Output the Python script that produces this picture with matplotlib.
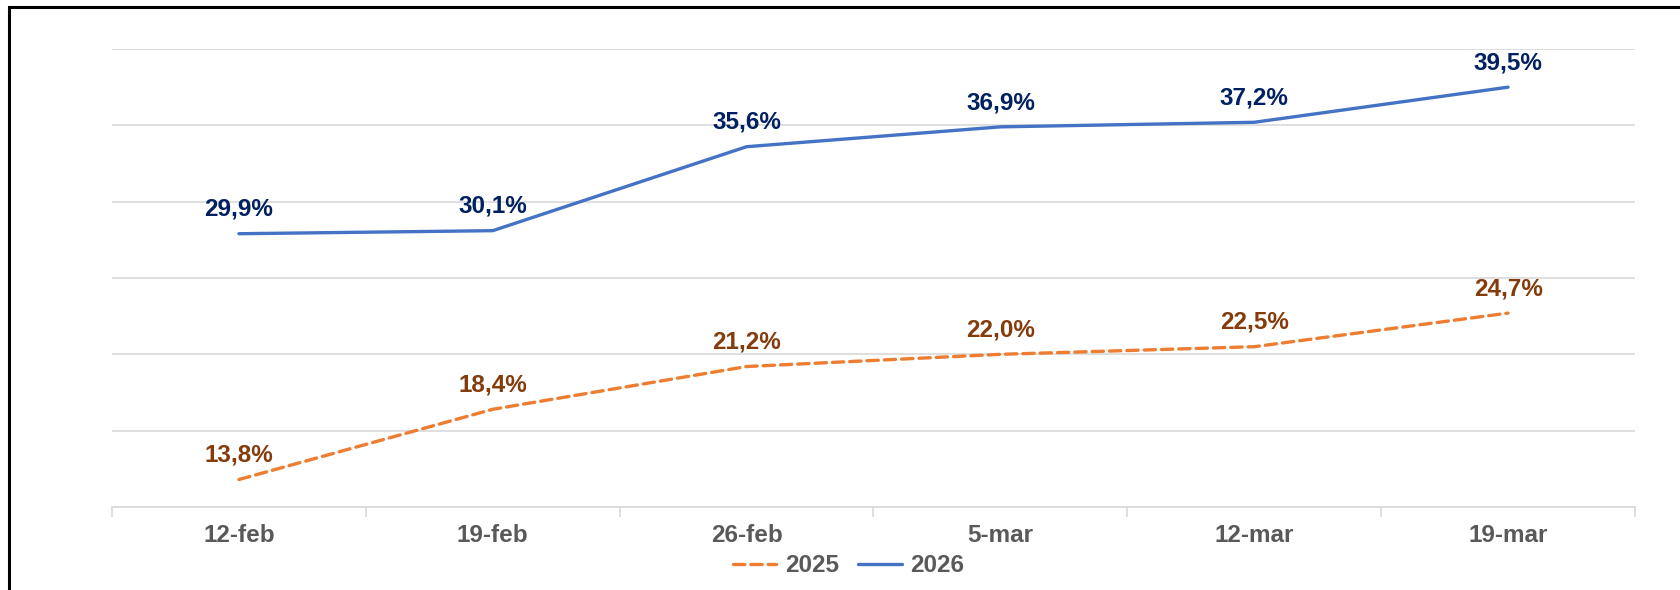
import matplotlib.pyplot as plt
from matplotlib.patches import Rectangle

plt.rcParams['font.family'] = ['Liberation Sans', 'DejaVu Sans']

# dati
settimane = ["12-feb", "19-feb", "26-feb", "5-mar", "12-mar", "19-mar"]
valori_2025 = [13.8, 18.4, 21.2, 22.0, 22.5, 24.7]
valori_2026 = [29.9, 30.1, 35.6, 36.9, 37.2, 39.5]

FS = 17.5

fig = plt.figure(figsize=(16.8, 5.9), dpi=100)
ax = fig.add_axes([112 / 1680, 1 - 507 / 590, 1523 / 1680, 458 / 590])

x = list(range(len(settimane)))

l25, = ax.plot(x, valori_2025, color="#ED7D31", lw=2.4, dashes=(3.4, 1.8),
               dash_capstyle="round", label="2025")
l26, = ax.plot(x, valori_2026, color="#4472C4", lw=2.4,
               solid_capstyle="round", label="2026")

# etichette dei valori
for xi, v in zip(x, valori_2025):
    ax.annotate(f"{v:.1f}%".replace(".", ","), (xi, v), xytext=(0, 17.5),
                textcoords="offset points", ha="center", va="center",
                fontsize=FS, fontweight="bold", color="#843C0C")
for xi, v in zip(x, valori_2026):
    ax.annotate(f"{v:.1f}%".replace(".", ","), (xi, v), xytext=(0, 17.5),
                textcoords="offset points", ha="center", va="center",
                fontsize=FS, fontweight="bold", color="#002060")

ax.set_xlim(-0.5, len(settimane) - 0.5)
ax.set_ylim(12, 42)
ax.set_yticks([12, 17, 22, 27, 32, 37, 42])
ax.yaxis.grid(True, color="#D9D9D9", lw=1.2)
ax.set_axisbelow(True)
ax.tick_params(axis="y", left=False, labelleft=False)

ax.set_xticks(x)
ax.set_xticklabels(settimane, fontsize=FS, fontweight="bold", color="#595959")
ax.set_xticks([i - 0.5 for i in range(len(settimane) + 1)], minor=True)
ax.tick_params(axis="x", which="major", length=0, pad=12)
ax.tick_params(axis="x", which="minor", length=7, color="#D9D9D9", width=1.2)

for s in ["top", "left", "right"]:
    ax.spines[s].set_visible(False)
ax.spines["bottom"].set_color("#D9D9D9")
ax.spines["bottom"].set_linewidth(1.2)

fig.legend(handles=[l25, l26], loc="center",
           bbox_to_anchor=(848.5 / 1680, 1 - 566 / 590), ncol=2, frameon=False,
           prop={"size": FS, "weight": "bold"}, labelcolor="#595959",
           handlelength=1.8, handletextpad=0.35, columnspacing=0.8)

# cornice
fig.patches.append(Rectangle((9 / 1680, -0.1), 1.2, 1.1 - 6.5 / 590, transform=fig.transFigure,
                             fill=False, edgecolor="black", lw=2.2))

fig.savefig("out.png", dpi=100)
